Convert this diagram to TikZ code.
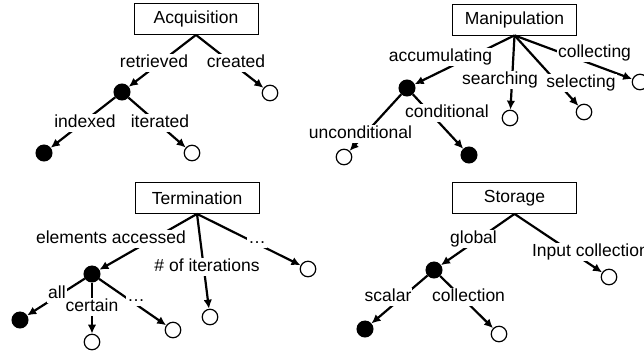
\documentclass[tikz,border=0pt]{standalone}
\usepackage{fontspec}
\setmainfont{Liberation Sans}
\usetikzlibrary{arrows.meta}

\tikzset{every picture/.style={line width=2.2pt}}

\begin{document}
\begin{tikzpicture}[
    x=1pt, y=-1pt,
    every node/.style={font=\fontsize{17.5}{20}\selectfont},
    category/.style={draw, line width=0.8pt, minimum width=124pt, minimum height=31pt, inner sep=0pt},
    blackdot/.style={circle, draw, fill=black, line width=1pt, minimum size=16pt, inner sep=0pt},
    whitedot/.style={circle, draw, fill=white, line width=1.2pt, minimum size=15.5pt, inner sep=0pt},
    tag/.style={fill=white, inner sep=1pt, text height=12.5pt, text depth=3.5pt},
    link/.style={-{Latex[length=9pt,width=8.5pt]}},
]
    \clip (0,0) rectangle (644,354);

    % Acquisition
    \node[category] (acq) at (196,19) {Acquisition};
    \node[blackdot] (retr) at (122,92) {};
    \node[whitedot] (crea) at (270,93) {};
    \node[blackdot] (idx) at (44,153) {};
    \node[whitedot] (iter) at (192,153) {};

    \draw[link] (acq.south) -- (retr);
    \draw[link] (acq.south) -- (crea);
    \draw[link] (retr) -- (idx);
    \draw[link] (retr) -- (iter);

    \node[tag] (retrtag) at (154,63) {retrieved};
    \node[tag] (creatag) at (236,63) {created};
    \node[tag] (idxtag) at (85,123) {indexed};
    \node[tag] (itertag) at (160,123) {iterated};

    % Manipulation
    \node[category] (man) at (514.5,19.5) {Manipulation};
    \node[blackdot] (accu) at (407,88) {};
    \node[whitedot] (srch) at (510,118) {};
    \node[whitedot] (sel) at (584,112) {};
    \node[whitedot] (coll) at (640,82) {};
    \node[whitedot] (uncond) at (344,157) {};
    \node[blackdot] (cond) at (469,155) {};

    \draw[link] (man.south) -- (accu);
    \draw[link] (man.south) -- (srch);
    \draw[link] (man.south) -- (sel);
    \draw[link] (man.south) -- (coll);
    \draw[link] (accu) -- (uncond);
    \draw[link] (accu) -- (cond);

    \node[tag] (accutag) at (440.5,57) {accumulating};
    \node[tag] (srchtag) at (500,80) {searching};
    \node[tag] (seltag) at (581,83) {selecting};
    \node[tag] (colltag) at (594.5,53) {collecting};
    \node[tag] (uncondtag) at (360.5,134) {unconditional};
    \node[tag] (condtag) at (447,113) {conditional};

    % Termination
    \node[category] (term) at (197,198) {Termination};
    \node[blackdot] (elem) at (92,274) {};
    \node[whitedot] (iters) at (210,317) {};
    \node[whitedot] (tmore) at (308,269) {};
    \node[blackdot] (all) at (20,320) {};
    \node[whitedot] (cert) at (92,342) {};
    \node[whitedot] (emore) at (173,330) {};

    \draw[link] (term.south) -- (elem);
    \draw[link] (term.south) -- (iters);
    \draw[link] (term.south) -- (tmore);
    \draw[link] (elem) -- (all);
    \draw[link] (elem) -- (cert);
    \draw[link] (elem) -- (emore);

    \node[tag] (elemtag) at (111,239) {elements accessed};
    \node[tag] (iterstag) at (207,267) {\# of iterations};
    \node[tag] (tmoretag) at (257,239) {…};
    \node[tag] (alltag) at (57,294) {all};
    \node[tag] (certtag) at (92,307) {certain};
    \node[tag] (emoretag) at (136,297) {…};

    % Storage
    \node[category] (stor) at (514.5,198) {Storage};
    \node[blackdot] (glob) at (434,270) {};
    \node[whitedot] (input) at (609,277) {};
    \node[blackdot] (scal) at (365,329) {};
    \node[whitedot] (colln) at (499,334) {};

    \draw[link] (stor.south) -- (glob);
    \draw[link] (stor.south) -- (input);
    \draw[link] (glob) -- (scal);
    \draw[link] (glob) -- (colln);

    \node[tag] (globtag) at (473.5,239) {global};
    \node[tag, anchor=west] (inputtag) at (530,252) {Input collection};
    \node[tag] (scaltag) at (388,297) {scalar};
    \node[tag] (collntag) at (468.5,297) {collection};
\end{tikzpicture}
\end{document}
